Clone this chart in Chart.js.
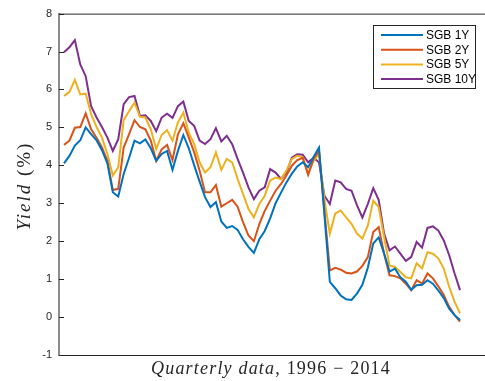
<!DOCTYPE html>
<html>
<head>
<meta charset="utf-8">
<script src="https://cdn.jsdelivr.net/npm/chart.js@4/dist/chart.umd.min.js"></script>
<style>
  body { margin: 0; background: #fff; overflow: hidden; }
  canvas { display: block; }
</style>
</head>
<body>
<canvas id="yield-chart" width="485" height="381"></canvas>
<script>
// quarterly SGB yields (%)
const sgb1y = [4.05, 4.25, 4.52, 4.66, 5.0, 4.82, 4.66, 4.4, 4.05, 3.29, 3.18, 3.77, 4.2, 4.65, 4.58, 4.68,
  4.45, 4.12, 4.3, 4.38, 3.88, 4.38, 4.8, 4.45, 4.0, 3.57, 3.16, 2.9, 3.03, 2.52, 2.35, 2.4, 2.3, 2.05,
  1.85, 1.69, 2.05, 2.27, 2.6, 3.0, 3.28, 3.55, 3.78, 3.97, 4.08, 3.95, 4.22, 4.47, 2.7, 0.93, 0.76,
  0.57, 0.47, 0.45, 0.62, 0.85, 1.3, 1.94, 2.1, 1.68, 1.2, 1.28, 1.05, 0.93, 0.72, 0.84, 0.85, 0.97,
  0.88, 0.7, 0.5, 0.22, 0.05, -0.08];
const sgb2y = [4.54, 4.65, 4.99, 5.01, 5.37, 4.95, 4.73, 4.47, 4.12, 3.35, 3.38, 4.47, 4.82, 5.19, 5.01, 4.95,
  4.65, 4.12, 4.42, 4.54, 4.14, 4.82, 5.11, 4.73, 4.34, 3.86, 3.29, 3.29, 3.48, 2.91, 3.0, 3.09, 2.91, 2.5,
  2.15, 2.0, 2.45, 2.8, 3.07, 3.33, 3.51, 3.73, 3.99, 4.14, 4.2, 3.75, 4.17, 4.38, 2.8, 1.23, 1.3,
  1.25, 1.17, 1.15, 1.2, 1.35, 1.58, 2.24, 2.37, 1.67, 1.1, 1.08, 1.02, 0.88, 0.71, 0.97, 0.88, 1.15,
  1.02, 0.81, 0.58, 0.27, 0.05, -0.12];
const sgb5y = [5.83, 5.93, 6.25, 5.87, 5.89, 5.35, 5.01, 4.73, 4.3, 3.73, 3.95, 5.19, 5.43, 5.65, 5.28, 5.26,
  4.95, 4.43, 4.8, 4.93, 4.65, 5.13, 5.39, 4.86, 4.56, 4.08, 3.81, 3.95, 4.34, 3.88, 4.17, 4.08, 3.64, 3.25,
  2.85, 2.63, 2.98, 3.2, 3.6, 3.68, 3.64, 3.86, 4.17, 4.25, 4.22, 3.78, 4.12, 4.3, 3.1, 2.2, 2.73,
  2.81, 2.63, 2.46, 2.2, 2.07, 2.41, 3.07, 2.9, 2.11, 1.36, 1.32, 1.19, 1.05, 1.02, 1.42, 1.28, 1.71,
  1.67, 1.55, 1.28, 0.8, 0.4, 0.1];
const sgb10y = [6.98, 7.11, 7.3, 6.66, 6.35, 5.56, 5.26, 5.01, 4.73, 4.38, 4.69, 5.61, 5.8, 5.83, 5.3, 5.32,
  5.17, 4.9, 5.26, 5.36, 5.25, 5.56, 5.68, 5.17, 5.04, 4.65, 4.56, 4.69, 4.98, 4.63, 4.78, 4.56, 4.17, 3.81,
  3.42, 3.11, 3.33, 3.42, 3.9, 3.81, 3.64, 3.81, 4.2, 4.29, 4.28, 4.08, 4.2, 4.08, 3.2, 2.98, 3.6,
  3.55, 3.38, 3.33, 2.95, 2.62, 2.98, 3.4, 3.09, 2.2, 1.76, 1.86, 1.67, 1.48, 1.58, 1.98, 1.83, 2.35,
  2.39, 2.28, 2.02, 1.63, 1.15, 0.71];

const seriesNames = ["SGB 1Y", "SGB 2Y", "SGB 5Y", "SGB 10Y"];
const seriesColors = ["#0072BD", "#D95319", "#EDB120", "#7E2F8E"];
const yTicks = [-1, 0, 1, 2, 3, 4, 5, 6, 7, 8];

// quarter labels (not shown on the axis)
const quarters = [];
for (let i = 0; i < sgb1y.length; i++) {
  quarters.push((1996 + Math.floor(i / 4)) + "Q" + ((i % 4) + 1));
}

const toPoints = (arr) => arr.map((v, i) => ({ x: i, y: v }));

const axisColor = "#262626";

// draws pieces of text in different fonts one after another, centred on cx
function drawParts(ctx, parts, cx, cy, spacing) {
  ctx.letterSpacing = spacing + "px";
  let w = 0;
  parts.forEach((p) => { ctx.font = p[0]; w += ctx.measureText(p[1]).width; });
  let px = cx - w / 2;
  parts.forEach((p) => {
    ctx.font = p[0];
    ctx.fillText(p[1], px, cy);
    px += ctx.measureText(p[1]).width;
  });
  ctx.letterSpacing = "0px";
}

// top box line, inward ticks, axis titles, legend box
const decorations = {
  id: "decorations",
  afterDraw(chart) {
    const ctx = chart.ctx;
    const area = chart.chartArea;
    const y = chart.scales.y;
    ctx.save();

    // top line of the box
    ctx.strokeStyle = axisColor;
    ctx.lineWidth = 1;
    ctx.beginPath();
    ctx.moveTo(area.left, area.top + 0.5);
    ctx.lineTo(area.right, area.top + 0.5);
    ctx.stroke();

    // ticks point into the plot
    yTicks.forEach((t) => {
      const py = Math.round(y.getPixelForValue(t)) + 0.5;
      ctx.beginPath();
      ctx.moveTo(area.left, py);
      ctx.lineTo(area.left + 5, py);
      ctx.stroke();
    });

    ctx.fillStyle = axisColor;
    ctx.textBaseline = "alphabetic";

    // y title: Yield (%)
    ctx.translate(30, 186);
    ctx.rotate(-Math.PI / 2);
    drawParts(ctx, [
      ["italic 19px 'Liberation Serif'", "Yield"],
      ["19px 'Liberation Serif'", " (%)"],
    ], 0, 0, 2);
    ctx.setTransform(1, 0, 0, 1, 0, 0);

    // x title: Quarterly data, 1996 - 2014
    drawParts(ctx, [
      ["italic 18px 'Liberation Serif'", "Quarterly data"],
      ["18px 'Liberation Serif'", ", 1996 \u2212 2014"],
    ], 271, 374, 1.2);

    // legend box
    const bx = 373.5, by = 25.5, bw = 102, bh = 63;
    ctx.fillStyle = "#fff";
    ctx.fillRect(bx, by, bw, bh);
    ctx.strokeStyle = axisColor;
    ctx.strokeRect(bx, by, bw, bh);
    ctx.font = "12px 'Liberation Sans'";
    ctx.textBaseline = "middle";
    chart.data.datasets.forEach((ds, i) => {
      const ly = 35 + i * 14.7;
      ctx.strokeStyle = ds.borderColor;
      ctx.lineWidth = 2;
      ctx.beginPath();
      ctx.moveTo(381, ly);
      ctx.lineTo(423, ly);
      ctx.stroke();
      ctx.fillStyle = "#000";
      ctx.fillText(ds.label, 426, ly + 0.5);
    });
    ctx.restore();
  },
};

const yieldChart = new Chart(document.getElementById("yield-chart"), {
  type: "line",
  data: {
    labels: quarters,
    datasets: seriesNames.map((name, i) => ({
      label: name,
      data: toPoints([sgb1y, sgb2y, sgb5y, sgb10y][i]),
      borderColor: seriesColors[i],
      backgroundColor: seriesColors[i],
      borderWidth: 2,
      pointRadius: 0,
      tension: 0,
      fill: false,
    })),
  },
  options: {
    responsive: false,
    animation: false,
    layout: { padding: { top: 12, bottom: 26, left: 0, right: 0 } },
    scales: {
      x: {
        type: "linear",
        min: -0.92,
        max: 77.6,
        ticks: { display: false },
        grid: { display: false, drawTicks: false },
        border: { display: true, color: axisColor, width: 1 },
        afterFit(scale) { scale.height = 0; },
      },
      y: {
        min: -1,
        max: 8,
        afterBuildTicks(scale) { scale.ticks = yTicks.map((v) => ({ value: v })); },
        ticks: {
          color: axisColor,
          font: { family: "'Liberation Sans', Arial", size: 11 },
          padding: 7,
        },
        grid: { display: false, drawTicks: false },
        border: { display: true, color: "#8c8c8c", width: 2 },
        afterFit(scale) { scale.width = 59; },
      },
    },
    plugins: {
      legend: { display: false },
      tooltip: { enabled: false },
    },
  },
  plugins: [decorations],
});
</script>
</body>
</html>
